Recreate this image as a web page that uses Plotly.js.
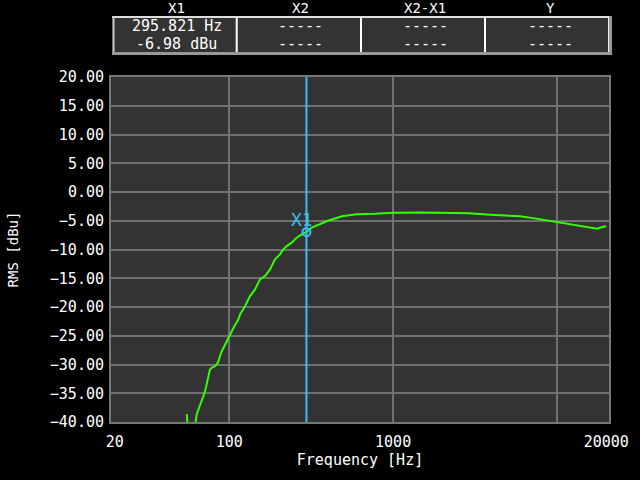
<!DOCTYPE html>
<html>
<head>
<meta charset="utf-8">
<script src="https://cdn.plot.ly/plotly-3.0.1.min.js"></script>
<style>html,body{margin:0;padding:0;background:#000;}#chart{width:640px;height:480px;}</style>
</head>
<body>
<div id="chart"></div>
<script>
// ---- data ----
const freqHz = [55.0, 55.6, 57, 61, 62.3, 63.2, 65.3, 67.9, 69.4, 71.1, 72.8, 74.7, 76.2, 78.1, 81.8, 85.0, 87.8, 89.9, 93.2, 96.4, 99.6, 103.4, 107.3, 113.5, 116.3, 124.7, 133.8, 143.6, 153.9, 165.2, 177.3, 190.1, 204.0, 213.7, 224.1, 240.4, 257.9, 276.7, 295.8, 318.4, 348, 400, 488, 600, 775, 1000, 1500, 2000, 2900, 3900, 5950, 7500, 8900, 10700, 12900, 15300, 17600, 19400, 20000];
const rmsDbu = [-38.6, -40.5, -41, -41, -40, -38.73, -37.56, -36.41, -35.54, -34.67, -33.50, -32.34, -30.89, -30.59, -30.31, -29.72, -28.57, -27.70, -26.83, -25.96, -25.09, -24.22, -23.34, -22.18, -21.30, -19.86, -18.11, -16.95, -15.20, -14.63, -13.46, -11.72, -10.85, -9.98, -9.40, -8.81, -7.94, -7.36, -6.98, -6.19, -5.71, -5.01, -4.22, -3.88, -3.80, -3.62, -3.58, -3.60, -3.70, -3.96, -4.22, -4.63, -4.98, -5.33, -5.67, -6.02, -6.37, -6.02, -6.02];
const cursorFreq = 295.821;
const cursorLevel = -6.98;
const cursorName = "X1";
const xTickVals = [20, 100, 1000, 20000];
const xTickText = ["20", "100", "1000", "20000"];
const xGridVals = [100, 1000, 10000];
const yRange = [-40, 20];
const tableHeaders = ["X1", "X2", "X2-X1", "Y"];
const tableRow1 = [cursorFreq.toFixed(3) + " Hz", "-----", "-----", "-----"];
const tableRow2 = [cursorLevel.toFixed(2) + " dBu", "-----", "-----", "-----"];

// ---- layout geometry (pixels) ----
const L = 111, R = 609, T = 77, B = 422;
const px = x => (x - L) / (R - L);
const py = y => (B - y) / (B - T);
const FONT = "DejaVu Sans Mono";
const xr = [Math.log10(100) - (229.3 - L) / 163.8, Math.log10(100) + (R - 229.3) / 163.8];

const green = "#33ff00", cyan = "#3cbdf0";

const traces = [
  {x: freqHz, y: rmsDbu, type: "scatter", mode: "lines", line: {color: green, width: 2}, hoverinfo: "skip", showlegend: false},
  {x: [cursorFreq, cursorFreq], y: yRange, xaxis: "x2", type: "scatter", mode: "lines", line: {color: cyan, width: 2}, showlegend: false, hoverinfo: "skip"},
  {x: [cursorFreq], y: [cursorLevel], xaxis: "x2", type: "scatter", mode: "markers", marker: {symbol: "circle-open", size: 8, color: cyan, line: {width: 2, color: cyan}}, showlegend: false, hoverinfo: "skip"}
];

const shapes = [];
const annotations = [];
// table box
const colEdges = [112.7, 236.7, 361, 485, 611.7];
shapes.push({type: "rect", xref: "paper", yref: "paper", x0: px(112.5), x1: px(611.5), y0: py(55), y1: py(16), fillcolor: "#333333", line: {width: 0}, layer: "above"});
shapes.push({type: "line", xref: "paper", yref: "paper", x0: px(112), x1: px(611), y0: py(17), y1: py(17), line: {color: "#dddddd", width: 2}, layer: "above"});
shapes.push({type: "line", xref: "paper", yref: "paper", x0: px(113.5), x1: px(113.5), y0: py(16), y1: py(55), line: {color: "#cccccc", width: 2}, layer: "above"});
shapes.push({type: "line", xref: "paper", yref: "paper", x0: px(112), x1: px(612), y0: py(53.5), y1: py(53.5), line: {color: "#999999", width: 3}, layer: "above"});
shapes.push({type: "line", xref: "paper", yref: "paper", x0: px(610.5), x1: px(610.5), y0: py(16), y1: py(55), line: {color: "#999999", width: 3}, layer: "above"});
shapes.push({type: "line", xref: "paper", yref: "paper", x0: px(608.5), x1: px(608.5), y0: py(17), y1: py(52), line: {color: "#eeeeee", width: 1}, layer: "above"});
for (let i = 1; i < colEdges.length - 1; i++) {
  shapes.push({type: "line", xref: "paper", yref: "paper", x0: px(colEdges[i]), x1: px(colEdges[i]), y0: py(17), y1: py(52), line: {color: "#ffffff", width: 2}, layer: "above"});
}
for (let i = 0; i < tableHeaders.length; i++) {
  const cx = px((colEdges[i] + colEdges[i + 1]) / 2 + 2);
  annotations.push({xref: "paper", yref: "paper", x: cx, y: py(8.5), text: tableHeaders[i], showarrow: false, font: {family: FONT, size: 14, color: "#ffffff"}, xanchor: "center", yanchor: "middle"});
  annotations.push({xref: "paper", yref: "paper", x: cx, y: py(26), text: tableRow1[i], showarrow: false, font: {family: FONT, size: 15, color: "#ffffff"}, xanchor: "center", yanchor: "middle"});
  annotations.push({xref: "paper", yref: "paper", x: cx, y: py(44), text: tableRow2[i], showarrow: false, font: {family: FONT, size: 15, color: "#ffffff"}, xanchor: "center", yanchor: "middle"});
}
// cursor label
annotations.push({xref: "x2", yref: "y", x: Math.log10(cursorFreq), y: cursorLevel, text: cursorName, showarrow: false, xshift: -4, yshift: 13, font: {family: FONT, size: 18, color: cyan}, xanchor: "center", yanchor: "middle"});

const layout = {
  width: 640, height: 480,
  margin: {l: L, r: 640 - R, t: T, b: 480 - B, pad: 0},
  paper_bgcolor: "#000000",
  plot_bgcolor: "#333333",
  font: {family: FONT, size: 15, color: "#ffffff"},
  showlegend: false,
  xaxis: {
    type: "log", range: xr, tickvals: xTickVals, ticktext: xTickText,
    showgrid: false, zeroline: false,
    showline: true, mirror: true, linecolor: "#777777", linewidth: 2,
    ticks: "outside", ticklen: 5, tickcolor: "rgba(0,0,0,0)",
    tickfont: {family: FONT, size: 15, color: "#ffffff"},
    title: {text: "Frequency [Hz]", font: {family: FONT, size: 15, color: "#ffffff"}, standoff: 4}
  },
  xaxis2: {
    type: "log", range: xr, overlaying: "x", anchor: "y", tickvals: xGridVals,
    showgrid: true, gridcolor: "#707070", gridwidth: 2, zeroline: false,
    showticklabels: false, ticks: "", showline: false
  },
  yaxis: {
    range: yRange, dtick: 5, tick0: 0, tickformat: ".2f",
    showgrid: true, gridcolor: "#707070", gridwidth: 2, zeroline: false,
    showline: true, mirror: true, linecolor: "#777777", linewidth: 2,
    ticks: "outside", ticklen: 2, tickcolor: "rgba(0,0,0,0)",
    tickfont: {family: FONT, size: 15, color: "#ffffff"},
    title: {text: "RMS [dBu]", font: {family: FONT, size: 14, color: "#ffffff"}, standoff: 28}
  },
  shapes: shapes,
  annotations: annotations
};

Plotly.newPlot("chart", traces, layout, {staticPlot: true, displayModeBar: false});
</script>
</body>
</html>
